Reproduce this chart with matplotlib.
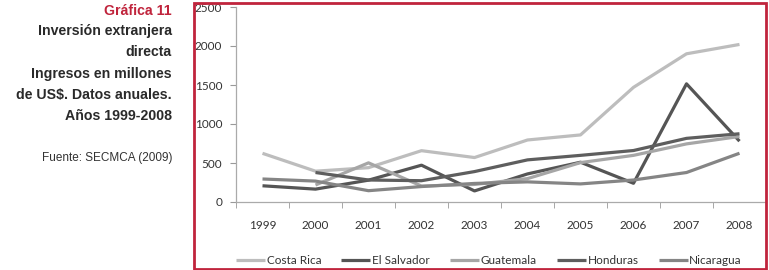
import numpy as np
import matplotlib
matplotlib.use("Agg")
import matplotlib.pyplot as plt
from matplotlib.patches import Rectangle

years = ["1999", "2000", "2001", "2002", "2003", "2004", "2005", "2006", "2007", "2008"]
costa_rica = [624, 395, 440, 658, 570, 795, 860, 1470, 1900, 2020]
el_salvador = [208, 165, 280, 472, 142, 360, 510, 240, 1515, 780]
guatemala = [np.nan, 218, 502, 205, 225, 300, 505, 598, 745, 840]
honduras = [np.nan, 378, 282, 273, 390, 540, 598, 660, 816, 875]
nicaragua = [295, 268, 145, 198, 238, 258, 232, 282, 378, 625]

series = [
    ("Costa Rica", costa_rica, "#bdbdbd"),
    ("El Salvador", el_salvador, "#555555"),
    ("Guatemala", guatemala, "#a6a6a6"),
    ("Honduras", honduras, "#5e5e5e"),
    ("Nicaragua", nicaragua, "#858585"),
]

W, H = 769, 270
fig = plt.figure(figsize=(W / 100, H / 100), dpi=100)
ax = fig.add_axes([236 / W, 1 - 202 / H, 530 / W, 195 / H])

x = np.arange(len(years))
for name, vals, col in series:
    ax.plot(x, vals, color=col, lw=2.3, label=name, solid_capstyle="butt")

ax.set_ylim(0, 2500)
ax.set_yticks(range(0, 2501, 500))
ax.set_xlim(-0.497, 9.26)
ax.set_xticks(x)
ax.set_xticklabels(years)
ax.set_xticks(np.arange(-0.5, 9.6, 1), minor=True)
ax.tick_params(axis="x", which="major", length=0, pad=13, labelsize=8.5, labelcolor="#333333")
ax.tick_params(axis="x", which="minor", length=4, color="#999999", direction="out")
ax.tick_params(axis="y", length=4, color="#999999", pad=6, labelsize=8.5, labelcolor="#333333")
for s in ["top", "right"]:
    ax.spines[s].set_visible(False)
for s in ["left", "bottom"]:
    ax.spines[s].set_color("#aaaaaa")
    ax.spines[s].set_linewidth(0.9)
for lab in ax.get_xticklabels() + ax.get_yticklabels():
    lab.set_family("Lato")

leg = fig.legend(loc="center", bbox_to_anchor=(489 / W, 1 - 261 / H), ncol=5, frameon=False,
                 handlelength=2.45, handletextpad=0.15, columnspacing=1.7,
                 prop={"family": "Lato", "size": 8.5})
for t in leg.get_texts():
    t.set_color("#333333")

fig.patches.append(Rectangle((193.5 / W, 1 - 268.5 / H), 572 / W, 266 / H, transform=fig.transFigure,
                             fill=False, edgecolor="#c0243c", lw=2, zorder=10))

tx = 172 / W
fig.text(tx, 1 - 11 / H, "Gráfica 11", ha="right", va="center", color="#c0243c",
         fontsize=10.2, fontweight="bold", family="Liberation Sans")
lines = ["Inversión extranjera", "directa", "Ingresos en millones", "de US$. Datos anuales.", "Años 1999-2008"]
ys = [31, 52, 74, 95, 116]
for s, yy in zip(lines, ys):
    fig.text(tx, 1 - yy / H, s, ha="right", va="center", color="#2a2a2a",
             fontsize=10.2, fontweight="bold", family="Liberation Sans")
fig.text(tx, 1 - 158 / H, "Fuente: SECMCA (2009)", ha="right", va="center", color="#333333",
         fontsize=8.5, family="Liberation Sans")

fig.savefig("out.png", dpi=100)
